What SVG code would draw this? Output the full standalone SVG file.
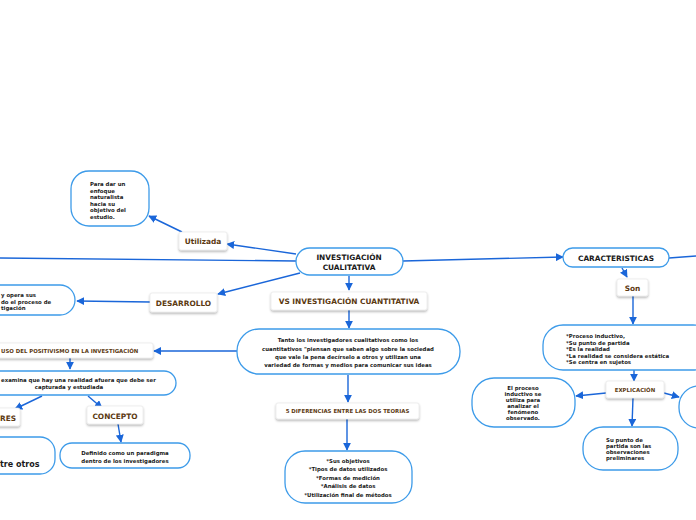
<svg xmlns="http://www.w3.org/2000/svg" width="696" height="520" viewBox="0 0 696 520">
<defs>
<marker id="arr" viewBox="0 0 10 10" refX="9" refY="5" markerWidth="8" markerHeight="8" markerUnits="userSpaceOnUse" orient="auto">
<path d="M0,0 L10,5 L0,10 z" fill="#1a66d9"/>
</marker>
<filter id="sh" x="-20%" y="-30%" width="140%" height="170%">
<feDropShadow dx="0" dy="1.5" stdDeviation="1.2" flood-color="#000" flood-opacity="0.3"/>
</filter>
</defs>
<style>
.n{fill:#fff;stroke:#3d9be9;stroke-width:1.3}
.l{fill:#fff;stroke:#e4e4e4;stroke-width:0.6;filter:url(#sh)}
.c{fill:none;stroke:#1a66d9;stroke-width:1.4;marker-end:url(#arr)}
.cn{fill:none;stroke:#1a66d9;stroke-width:1.4}
text{font-family:"DejaVu Sans",Verdana,sans-serif;font-weight:bold;fill:#1a1a1a}
.t{font-size:5.4px}
.m{font-size:7.4px}
.b{fill:#5c3a12;font-size:7.4px}
.bs{fill:#5c3a12;font-size:5.4px}
</style>
<rect width="696" height="520" fill="#fff"/>
<g id="connectors">
<path class="c" d="M296,254 L227,244"/>
<path class="c" d="M182,232 L149,216"/>
<path class="cn" d="M296,261 L0,258"/>
<path class="c" d="M403,261 L563,257"/>
<path class="cn" d="M669,258 L696,256"/>
<path class="c" d="M622,268 L627,277"/>
<path class="c" d="M633,296 L633,324"/>
<path class="c" d="M634,370 L634,381"/>
<path class="c" d="M606,393 L576,396"/>
<path class="c" d="M664,393 L679,397"/>
<path class="c" d="M633,398 L632,426"/>
<path class="c" d="M300,273 L218,294"/>
<path class="c" d="M150,302 L77,301"/>
<path class="c" d="M349,276 L349,290"/>
<path class="c" d="M349,310 L349,328"/>
<path class="c" d="M348,375 L348,402"/>
<path class="c" d="M347,419 L347,450"/>
<path class="c" d="M237,351 L154,351"/>
<path class="c" d="M70,358 L70,369"/>
<path class="c" d="M42,396 L15,409"/>
<path class="c" d="M88,396 L102,408"/>
<path class="c" d="M118,424 L121,442"/>
</g>
<g id="main">
<rect class="n" x="296" y="248" width="107" height="27" rx="13.5"/>
<text class="m" x="349" y="260" text-anchor="middle">INVESTIGACIÓN</text>
<text class="m" x="349" y="270" text-anchor="middle">CUALITATIVA</text>
</g>
<g id="para-dar">
<rect class="n" x="71" y="171" width="78" height="55" rx="18"/>
<text class="t" x="90" y="186">Para dar un</text>
<text class="t" x="90" y="192.5">enfoque</text>
<text class="t" x="90" y="199">naturalista</text>
<text class="t" x="90" y="205.5">hacia su</text>
<text class="t" x="90" y="212">objetivo del</text>
<text class="t" x="90" y="218.5">estudio.</text>
</g>
<g id="utilizada">
<rect class="l" x="179" y="232" width="48" height="18" rx="2"/>
<text class="b" x="203" y="244" text-anchor="middle">Utilizada</text>
</g>
<g id="caracteristicas">
<rect class="n" x="563" y="248" width="106" height="19" rx="9.5"/>
<text class="m" x="616" y="260.5" text-anchor="middle">CARACTERISTICAS</text>
</g>
<g id="son">
<rect class="l" x="617" y="279" width="31" height="17" rx="2"/>
<text class="b" x="632.5" y="290.5" text-anchor="middle">Son</text>
</g>
<g id="proceso">
<rect class="n" x="543" y="325" width="170" height="45" rx="20"/>
<text class="t" x="566" y="338">*Proceso inductivo,</text>
<text class="t" x="566" y="344.5">*Su punto de partida</text>
<text class="t" x="566" y="351">*Es la realidad</text>
<text class="t" x="566" y="357.5">*La realidad se considera estática</text>
<text class="t" x="566" y="364">*Se centra en sujetos</text>
</g>
<g id="explicacion">
<rect class="l" x="606" y="381" width="58" height="17" rx="2"/>
<text class="bs" x="635" y="391.5" text-anchor="middle">EXPLICACIÓN</text>
</g>
<g id="el-proceso">
<rect class="n" x="472" y="378" width="103" height="49" rx="22"/>
<text class="t" x="523" y="389.5" text-anchor="middle">El proceso</text>
<text class="t" x="523" y="395.5" text-anchor="middle">inductivo se</text>
<text class="t" x="523" y="401.5" text-anchor="middle">utiliza para</text>
<text class="t" x="523" y="407.5" text-anchor="middle">analizar el</text>
<text class="t" x="523" y="413.5" text-anchor="middle">fenómeno</text>
<text class="t" x="523" y="419.5" text-anchor="middle">observado.</text>
</g>
<g id="right-box">
<rect class="n" x="679" y="386" width="60" height="42" rx="20"/>
</g>
<g id="su-punto">
<rect class="n" x="583" y="427" width="95" height="43" rx="20"/>
<text class="t" x="606" y="442">Su punto de</text>
<text class="t" x="606" y="448">partida son las</text>
<text class="t" x="606" y="454">observaciones</text>
<text class="t" x="606" y="460">preliminares</text>
</g>
<g id="desarrollo">
<rect class="l" x="150" y="293" width="67" height="19" rx="2"/>
<text class="b" x="183.5" y="305.5" text-anchor="middle">DESARROLLO</text>
</g>
<g id="opera">
<rect class="n" x="-30" y="285" width="105" height="30" rx="15"/>
<text class="t" x="1" y="297">y opera sus</text>
<text class="t" x="1" y="303.5">do el proceso de</text>
<text class="t" x="1" y="310">tigación</text>
</g>
<g id="vs">
<rect class="l" x="271" y="292" width="156" height="18" rx="2"/>
<text class="b" x="349" y="304" text-anchor="middle">VS INVESTIGACIÓN CUANTITATIVA</text>
</g>
<g id="tanto">
<rect class="n" x="237" y="329" width="223" height="45" rx="22"/>
<text class="t" x="348" y="342" text-anchor="middle">Tanto los investigadores cualitativos como los</text>
<text class="t" x="348" y="350.5" text-anchor="middle">cuantitativos "piensan que saben algo sobre la sociedad</text>
<text class="t" x="348" y="359" text-anchor="middle">que vale la pena decírselo a otros y utilizan una</text>
<text class="t" x="348" y="367" text-anchor="middle">variedad de formas y medios para comunicar sus ideas</text>
</g>
<g id="diferencias">
<rect class="l" x="276" y="403" width="143" height="16" rx="2"/>
<text class="bs" x="347.5" y="413" text-anchor="middle">5 DIFERENCIAS ENTRE LAS DOS TEORIAS</text>
</g>
<g id="objetivos">
<rect class="n" x="285" y="451" width="127" height="52" rx="20"/>
<text class="t" x="348" y="463" text-anchor="middle">*Sus objetivos</text>
<text class="t" x="348" y="471" text-anchor="middle">*Tipos de datos utilizados</text>
<text class="t" x="348" y="479.5" text-anchor="middle">*Formas de medición</text>
<text class="t" x="348" y="487.5" text-anchor="middle">*Análisis de datos</text>
<text class="t" x="348" y="496.5" text-anchor="middle">*Utilización final de métodos</text>
</g>
<g id="positivismo">
<rect class="l" x="-10" y="343" width="163" height="15" rx="2"/>
<text class="bs" x="1" y="352.5">USO DEL POSITIVISMO EN LA INVESTIGACIÓN</text>
</g>
<g id="examina">
<rect class="n" x="-25" y="371" width="201" height="24" rx="12"/>
<text class="t" x="1" y="382">examina que hay una realidad afuera que debe ser</text>
<text class="t" x="69" y="389" text-anchor="middle">capturada y estudiada</text>
</g>
<g id="res">
<rect class="l" x="-10" y="408" width="30" height="18" rx="2"/>
<text class="b" x="0" y="420.5">RES</text>
</g>
<g id="concepto">
<rect class="l" x="87" y="406" width="56" height="18" rx="2"/>
<text class="b" x="115" y="418.5" text-anchor="middle">CONCEPTO</text>
</g>
<g id="definido">
<rect class="n" x="60" y="443" width="130" height="25" rx="12"/>
<text class="t" x="125" y="455" text-anchor="middle">Definido como un paradigma</text>
<text class="t" x="125" y="462.5" text-anchor="middle">dentro de los investigadores</text>
</g>
<g id="otros">
<rect class="n" x="-30" y="437" width="85" height="37" rx="15"/>
<text x="0" y="467" style="font-size:8px">tre otros</text>
</g>
</svg>
